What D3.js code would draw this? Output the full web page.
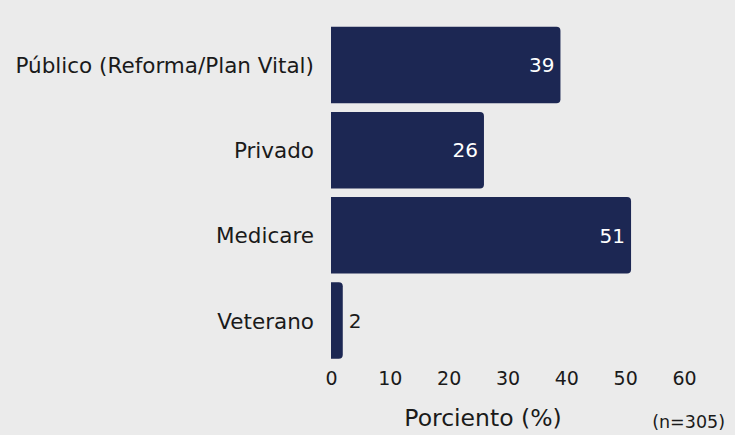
<!DOCTYPE html>
<html>
<head>
<meta charset="utf-8">
<script src="https://cdn.jsdelivr.net/npm/d3@7"></script>
<style>
  body { margin: 0; background: #ebebeb; }
  svg { display: block; font-family: 'DejaVu Sans', sans-serif; }
</style>
</head>
<body>
<div id="chart"></div>
<script>
// values
const categories = ['Público (Reforma/Plan Vital)', 'Privado', 'Medicare', 'Veterano'];
const values = [39, 26, 51, 2];
const xTicks = [0, 10, 20, 30, 40, 50, 60];
const axisTitle = 'Porciento (%)';
const note = '(n=305)';

const width = 735, height = 435;
const font = "'DejaVu Sans', sans-serif";
const data = categories.map((c, i) => ({ cat: c, val: values[i] }));

const svg = d3.select('#chart')
  .append('svg')
  .attr('width', width)
  .attr('height', height);

svg.append('rect')
  .attr('width', width)
  .attr('height', height)
  .attr('fill', '#ebebeb');

const xscale = d3.scaleLinear().domain([0, 60]).range([331, 684]);
const yscale = d3.scaleBand().domain(categories).range([22.5, 363]).paddingInner(0.1).paddingOuter(0.05);

// bar with rounded right corners only
const r = 4;
function barPath(d) {
  const x0 = xscale(0), x1 = xscale(d.val);
  const y0 = yscale(d.cat), h = yscale.bandwidth();
  const rr = Math.min(r, (x1 - x0) / 2);
  return `M${x0},${y0}H${x1 - rr}Q${x1},${y0} ${x1},${y0 + rr}V${y0 + h - rr}Q${x1},${y0 + h} ${x1 - rr},${y0 + h}H${x0}Z`;
}

svg.selectAll('.bar')
  .data(data)
  .enter()
  .append('path')
  .attr('class', 'bar')
  .attr('d', barPath)
  .attr('fill', '#1c2753');

// value labels: inside for wide bars, outside for small ones
svg.selectAll('.val')
  .data(data)
  .enter()
  .append('text')
  .attr('class', 'val')
  .attr('x', d => d.val > 10 ? xscale(d.val) - 6 : xscale(d.val) + 6)
  .attr('y', d => yscale(d.cat) + yscale.bandwidth() / 2)
  .attr('dy', '0.36em')
  .attr('text-anchor', d => d.val > 10 ? 'end' : 'start')
  .attr('fill', d => d.val > 10 ? '#ffffff' : '#1a1a1a')
  .style('font-size', '20px')
  .text(d => d.val);

// category labels
const yaxis = d3.axisLeft(yscale).tickSize(0).tickPadding(17);
const yg = svg.append('g')
  .attr('transform', `translate(${xscale(0)},0)`)
  .call(yaxis);
yg.select('.domain').remove();
yg.selectAll('text')
  .style('font-size', '21.5px')
  .style('font-family', font)
  .attr('dy', '0.38em')
  .attr('fill', '#1a1a1a');

// x axis
const xaxis = d3.axisBottom(xscale).tickValues(xTicks).tickSize(0).tickPadding(0);
const xg = svg.append('g')
  .attr('transform', 'translate(0,385)')
  .call(xaxis);
xg.select('.domain').remove();
xg.selectAll('text')
  .attr('dy', 0)
  .style('font-size', '19px')
  .style('font-family', font)
  .attr('fill', '#1a1a1a');

svg.append('text')
  .attr('x', 483)
  .attr('y', 426)
  .attr('text-anchor', 'middle')
  .attr('fill', '#1a1a1a')
  .style('font-size', '23.5px')
  .text(axisTitle);

svg.append('text')
  .attr('x', 725)
  .attr('y', 428)
  .attr('text-anchor', 'end')
  .attr('fill', '#1a1a1a')
  .style('font-size', '17.5px')
  .text(note);
</script>
</body>
</html>
